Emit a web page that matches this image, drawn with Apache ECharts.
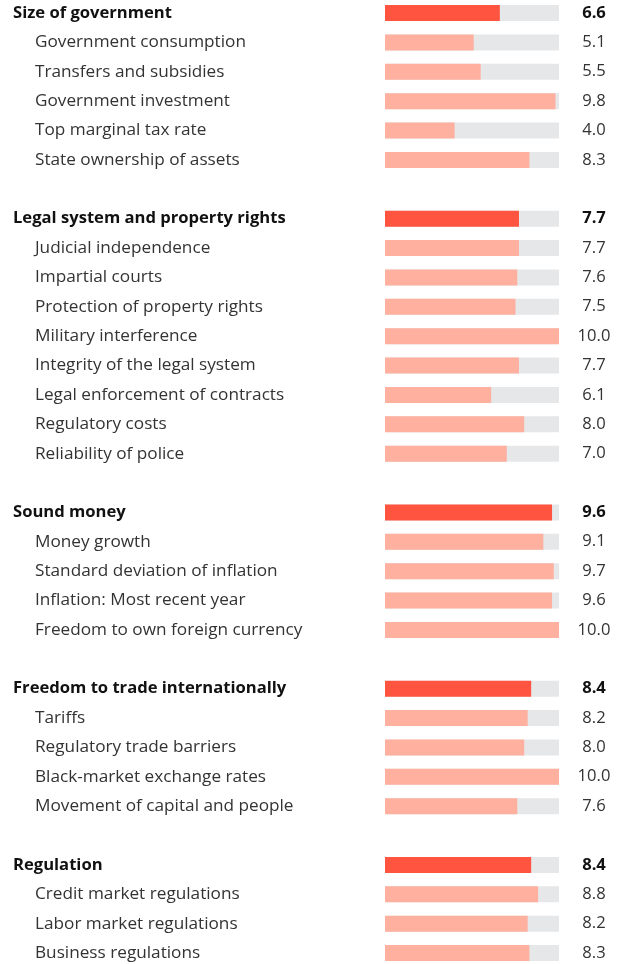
<!DOCTYPE html>
<html>
<head>
<meta charset="utf-8">
<script src="https://cdn.jsdelivr.net/npm/echarts@6/dist/echarts.min.js"></script>
<style>
html, body { margin: 0; padding: 0; background: #fff; }
#main { width: 626px; height: 964px; }
</style>
</head>
<body>
<div id="main"></div>
<script>
// rows, top to bottom ('' = blank spacer row)
var labels = [
  'Size of government', 'Government consumption', 'Transfers and subsidies', 'Government investment', 'Top marginal tax rate', 'State ownership of assets',
  '',
  'Legal system and property rights', 'Judicial independence', 'Impartial courts', 'Protection of property rights', 'Military interference', 'Integrity of the legal system', 'Legal enforcement of contracts', 'Regulatory costs', 'Reliability of police',
  '',
  'Sound money', 'Money growth', 'Standard deviation of inflation', 'Inflation: Most recent year', 'Freedom to own foreign currency',
  '',
  'Freedom to trade internationally', 'Tariffs', 'Regulatory trade barriers', 'Black-market exchange rates', 'Movement of capital and people',
  '',
  'Regulation', 'Credit market regulations', 'Labor market regulations', 'Business regulations'
];
var values = [
  6.6, 5.1, 5.5, 9.8, 4.0, 8.3,
  null,
  7.7, 7.7, 7.6, 7.5, 10.0, 7.7, 6.1, 8.0, 7.0,
  null,
  9.6, 9.1, 9.7, 9.6, 10.0,
  null,
  8.4, 8.2, 8.0, 10.0, 7.6,
  null,
  8.4, 8.8, 8.2, 8.3
];
// 1 = area heading, 0 = component
var isHeader = [
  1, 0, 0, 0, 0, 0,
  0,
  1, 0, 0, 0, 0, 0, 0, 0, 0,
  0,
  1, 0, 0, 0, 0,
  0,
  1, 0, 0, 0, 0,
  0,
  1, 0, 0, 0
];
var maxScore = 10;

var chart = echarts.init(document.getElementById('main'));
var FONT = 'Open Sans';
var FS = 16.6;

var rowH = 940 / 32;
var cats = labels.map(function (l, i) { return String(i); });

var bgData = values.map(function (v) { return v === null ? null : maxScore; });
var barData = values.map(function (v, i) {
  return {
    value: v,
    itemStyle: { color: isHeader[i] ? '#ff5540' : '#ffb09f' }
  };
});

var option = {
  animation: false,
  grid: {
    left: 385,
    width: 174,
    top: 13 - rowH / 2,
    height: rowH * labels.length,
    outerBoundsMode: 'none'
  },
  xAxis: {
    type: 'value',
    min: 0,
    max: maxScore,
    show: false
  },
  yAxis: [{
    type: 'category',
    data: cats,
    inverse: true,
    axisLine: { show: false },
    axisTick: { show: false },
    axisLabel: {
      margin: 372,
      align: 'left',
      formatter: function (v) {
        var i = +v;
        if (!labels[i]) return '';
        return isHeader[i] ? '{h|' + labels[i] + '}' : '{s|' + labels[i] + '}';
      },
      rich: {
        h: { fontFamily: FONT, fontSize: FS, fontWeight: 'bold', color: '#111' },
        s: { fontFamily: FONT, fontSize: 17.2, color: '#333', padding: [0, 0, 0, 22] }
      }
    }
  }, {
    type: 'category',
    data: cats,
    inverse: true,
    position: 'right',
    axisLine: { show: false },
    axisTick: { show: false },
    axisLabel: {
      margin: 35,
      align: 'center',
      formatter: function (v) {
        var i = +v;
        if (values[i] === null) return '';
        var t = values[i].toFixed(1);
        return isHeader[i] ? '{h|' + t + '}' : '{s|' + t + '}';
      },
      rich: {
        h: { fontFamily: FONT, fontSize: FS, fontWeight: 'bold', color: '#111' },
        s: { fontFamily: FONT, fontSize: FS, color: '#333' }
      }
    }
  }],
  series: [{
    type: 'bar',
    data: bgData,
    barWidth: 16,
    barGap: '-100%',
    itemStyle: { color: '#e6e7e9' },
    silent: true
  }, {
    type: 'bar',
    data: barData,
    barWidth: 16
  }]
};

chart.setOption(option);
</script>
</body>
</html>
